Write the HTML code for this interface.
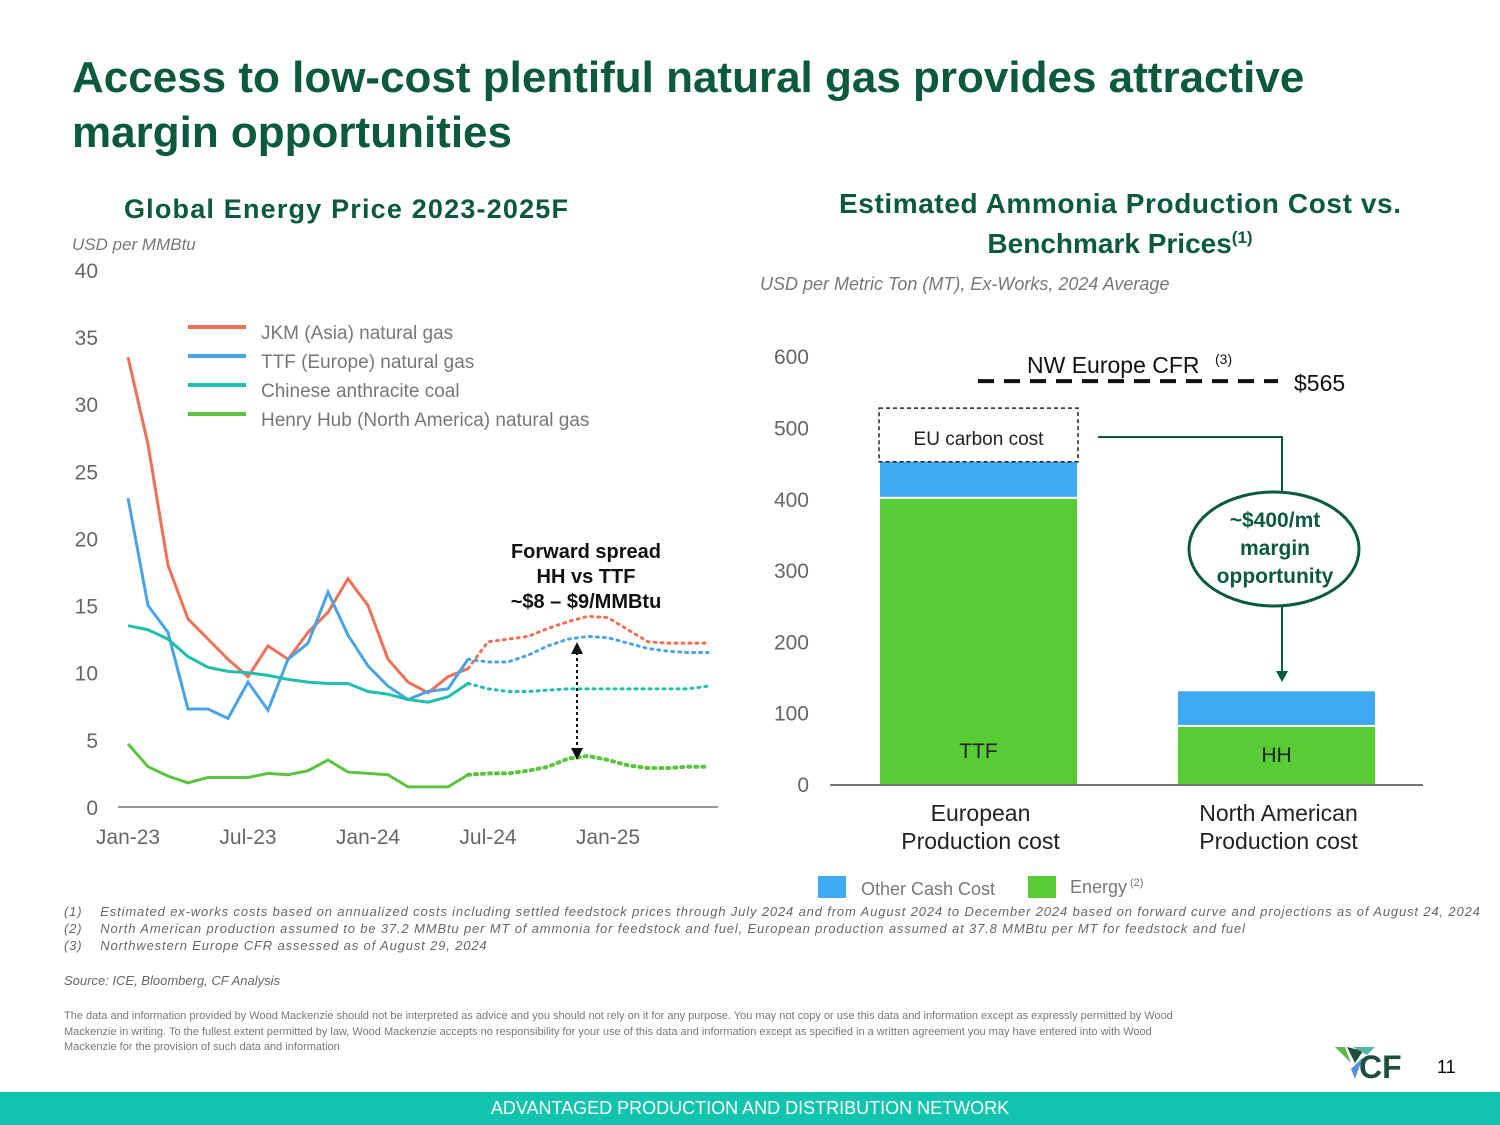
<!DOCTYPE html>
<html><head><meta charset="utf-8"><style>
body{margin:0;width:1500px;height:1125px;background:#fff;font-family:"Liberation Sans",sans-serif;position:relative;overflow:hidden}
.a{position:absolute}
</style></head><body>
<div class="a" style="left:72px;top:50px;font-size:44px;font-weight:bold;color:#0b5a3c;line-height:55px;width:1310px">Access to low-cost plentiful natural gas provides attractive margin opportunities</div>
<svg class="a" style="left:0;top:0" width="1500" height="1125" id="svg">
<text x="346" y="218" text-anchor="middle" font-size="27" font-weight="bold" fill="#0b5a3c" textLength="444">Global Energy Price 2023-2025F</text>
<text x="72" y="250" font-size="17" font-style="italic" fill="#777">USD per MMBtu</text>
<text x="1120" y="213" text-anchor="middle" font-size="28" font-weight="bold" fill="#0b5a3c" textLength="562">Estimated Ammonia Production Cost vs.</text>
<text x="1120" y="253" text-anchor="middle" font-size="28" font-weight="bold" fill="#0b5a3c">Benchmark Prices<tspan font-size="17" dy="-10">(1)</tspan></text>
<text x="760" y="290" font-size="18" font-style="italic" fill="#777">USD per Metric Ton (MT), Ex-Works, 2024 Average</text>
<g id="left"></g><g id="right"></g>
</svg>
<div class="a" style="left:64px;top:903px;font-size:13px;font-style:italic;color:#666;line-height:17px;letter-spacing:0.85px">
<div>(1)&nbsp;&nbsp;&nbsp;&nbsp;Estimated ex-works costs based on annualized costs including settled feedstock prices through July 2024 and from August 2024 to December 2024 based on forward curve and projections as of August 24, 2024</div>
<div>(2)&nbsp;&nbsp;&nbsp;&nbsp;North American production assumed to be 37.2 MMBtu per MT of ammonia for feedstock and fuel, European production assumed at 37.8 MMBtu per MT for feedstock and fuel</div>
<div>(3)&nbsp;&nbsp;&nbsp;&nbsp;Northwestern Europe CFR assessed as of August 29, 2024</div>
<div style="margin-top:18px;letter-spacing:0">Source: ICE, Bloomberg, CF Analysis</div></div>
<div class="a" style="left:64px;top:1009px;width:1140px;font-size:11px;color:#777;line-height:15.5px">The data and information provided by Wood Mackenzie should not be interpreted as advice and you should not rely on it for any purpose. You may not copy or use this data and information except as expressly permitted by Wood Mackenzie in writing. To the fullest extent permitted by law, Wood Mackenzie accepts no responsibility for your use of this data and information except as specified in a written agreement you may have entered into with Wood Mackenzie for the provision of such data and information</div>
<div class="a" style="left:1335px;top:1045px;width:80px;height:36px">
<svg width="80" height="36"><polygon points="0,2 10,2 16,18" fill="#5cb848"/><polygon points="12,2 20,18 28,6" fill="#1d4f3a"/><polygon points="18,2 40,2 32,10" fill="#4fb8a6"/><polygon points="16,24 28,12 20,34" fill="#5b8fd6"/><text x="24" y="33" font-size="32" font-weight="bold" fill="#1d4f3a">CF</text></svg></div>
<div class="a" style="left:1437px;top:1057px;font-size:18px">11</div>
<div class="a" style="left:0;top:1092px;width:1500px;height:33px;background:#12c3ad;color:#fff;font-size:18px;text-align:center;line-height:33px">ADVANTAGED PRODUCTION AND DISTRIBUTION NETWORK</div>
<script>
const months=['Jan-23','Jul-23','Jan-24','Jul-24','Jan-25'];
const yTicks=[0,5,10,15,20,25,30,35,40];
const jkm=[33.5,27,18,14,12.5,11,9.7,12,11,13,14.5,17,15,11,9.3,8.5,9.7,10.3];
const jkmF=[10.3,12.3,12.5,12.7,13.3,13.8,14.2,14.1,13.2,12.3,12.2,12.2,12.2];
const ttf=[23,15,13,7.3,7.3,6.6,9.3,7.2,11,12.2,16,12.8,10.5,9,8,8.6,8.8,11];
const ttfF=[11,10.8,10.8,11.3,12,12.5,12.7,12.6,12.2,11.8,11.6,11.5,11.5];
const coal=[13.5,13.2,12.5,11.2,10.4,10.1,10,9.8,9.5,9.3,9.2,9.2,8.6,8.4,8,7.8,8.2,9.2];
const coalF=[9.2,8.8,8.6,8.6,8.7,8.8,8.8,8.8,8.8,8.8,8.8,8.8,9.0];
const hh=[4.7,3,2.3,1.8,2.2,2.2,2.2,2.5,2.4,2.7,3.5,2.6,2.5,2.4,1.5,1.5,1.5,2.4];
const hhF=[2.4,2.5,2.5,2.7,3.0,3.6,3.8,3.5,3.1,2.9,2.9,3.0,3.0];
const seriesNames=['JKM (Asia) natural gas','TTF (Europe) natural gas','Chinese anthracite coal','Henry Hub (North America) natural gas'];
const barCats=['European|Production cost','North American|Production cost'];
const barLabels=['TTF','HH'];
const energy=[400,80];
const otherCash=[52,50];
const carbon=[113,0];
const nwEurope=565;
const rTicks=[0,100,200,300,400,500,600];
const NS='http://www.w3.org/2000/svg';
function mk(p,t,a,txt){const e=document.createElementNS(NS,t);for(const k in a)e.setAttribute(k,a[k]);if(txt!=null)e.textContent=txt;p.appendChild(e);return e;}
const L=document.getElementById('left');
const xL=i=>128+20*i, yL=v=>807-v*13.43;
yTicks.forEach(t=>{const e=mk(L,'text',{x:98,y:yL(t)+8,'text-anchor':'end','font-size':21,fill:'#666'},t);

});
mk(L,'line',{x1:118,x2:718,y1:807,y2:807,stroke:'#999','stroke-width':2});
months.forEach((m,i)=>{const e=mk(L,'text',{x:xL(i*6),y:844,'text-anchor':'middle','font-size':21,fill:'#666'},m);

});
const cols=['#f07056','#4aa3e6','#1fbfae','#5ac43e'];
[[jkm,jkmF],[ttf,ttfF],[coal,coalF],[hh,hhF]].forEach((s,k)=>{
 const p=mk(L,'polyline',{points:s[0].map((v,i)=>xL(i)+','+yL(v)).join(' '),fill:'none',stroke:cols[k],'stroke-width':3});
 
 
 const f=mk(L,'polyline',{points:s[1].map((v,i)=>xL(i+17)+','+yL(v)).join(' '),fill:'none',stroke:cols[k],'stroke-width':k==3?4:3,'stroke-dasharray':'2 5','stroke-linecap':'round'});
 
 
 const ly=327+k*29;
 const ll=mk(L,'line',{x1:188,x2:246,y1:ly,y2:ly,stroke:cols[k],'stroke-width':4});
 
 const lt=mk(L,'text',{x:261,y:ly+12,'font-size':19,fill:'#777'},seriesNames[k]);
 
 
});
['Forward spread','HH vs TTF','~$8 – $9/MMBtu'].forEach((t,i)=>{const e=mk(L,'text',{x:586,y:558+i*25,'text-anchor':'middle','font-size':20,'font-weight':'bold',fill:'#111'},t);
});
mk(L,'line',{x1:577,x2:577,y1:652,y2:750,stroke:'#111','stroke-width':2,'stroke-dasharray':'3 3'});
mk(L,'polygon',{points:'571,654 583,654 577,642',fill:'#111'});
mk(L,'polygon',{points:'571,748 583,748 577,760',fill:'#111'});

const R=document.getElementById('right');
const yR=v=>784-v*0.713;
rTicks.forEach(t=>{const e=mk(R,'text',{x:809,y:yR(t)+8,'text-anchor':'end','font-size':21,fill:'#666'},t);

});
mk(R,'line',{x1:830,x2:1423,y1:785,y2:785,stroke:'#777','stroke-width':2});
const bx=[880,1178],bw=197;
barCats.forEach((c,i)=>{
 const g=mk(R,'rect',{x:bx[i],y:yR(energy[i]),width:bw,height:yR(0)-yR(energy[i]),fill:'#58cc35'});
 
 
 const o=mk(R,'rect',{x:bx[i],y:yR(energy[i]+otherCash[i]),width:bw,height:yR(energy[i])-yR(energy[i]+otherCash[i])-2,fill:'#3fa9f5'});
 
 
 mk(R,'text',{x:bx[i]+bw/2,y:i?762:758,'text-anchor':'middle','font-size':21,fill:'#222'},barLabels[i]);
 c.split('|').forEach((t,j)=>{const e=mk(R,'text',{x:bx[i]+bw/2+2,y:821+j*28,'text-anchor':'middle','font-size':23,fill:'#222'},t);
 
 });
 if(carbon[i]>0){const tot=energy[i]+otherCash[i];
  const cb=mk(R,'rect',{x:bx[i]-1,y:yR(tot+carbon[i])+27,width:bw+2,height:yR(tot)-yR(tot+carbon[i])-27,fill:'none',stroke:'#222','stroke-dasharray':'4 3','stroke-width':1.5});
  
  mk(R,'text',{x:bx[i]+bw/2,y:445,'text-anchor':'middle','font-size':19,fill:'#222'},'EU carbon cost');}
});
mk(R,'line',{x1:978,x2:1278,y1:yR(nwEurope),y2:yR(nwEurope),stroke:'#111','stroke-width':4,'stroke-dasharray':'16 10'});
mk(R,'text',{x:1027,y:373,'font-size':23,fill:'#111'},'NW Europe CFR');
mk(R,'text',{x:1215,y:364,'font-size':14,fill:'#111'},'(3)');
mk(R,'text',{x:1294,y:391,'font-size':23,fill:'#111'},'$'+nwEurope);
mk(R,'polyline',{points:'1098,437 1282,437 1282,502',fill:'none',stroke:'#0b5a3c','stroke-width':2});
mk(R,'ellipse',{cx:1274,cy:549,rx:85,ry:57,fill:'#fff',stroke:'#0b5a3c','stroke-width':3});
['~$400/mt','margin','opportunity'].forEach((t,i)=>mk(R,'text',{x:1275,y:527+i*28,'text-anchor':'middle','font-size':21,'font-weight':'bold',fill:'#0b5a3c'},t));
mk(R,'line',{x1:1282,x2:1282,y1:606,y2:672,stroke:'#0b5a3c','stroke-width':2});
mk(R,'polygon',{points:'1276,671 1288,671 1282,682',fill:'#0b5a3c'});
mk(R,'rect',{x:818,y:876,width:28,height:22,fill:'#3fa9f5'});
mk(R,'text',{x:861,y:895,'font-size':18,fill:'#777'},'Other Cash Cost');
mk(R,'rect',{x:1028,y:876,width:28,height:22,fill:'#58cc35'});
mk(R,'text',{x:1070,y:893,'font-size':18,fill:'#777'},'Energy');
mk(R,'text',{x:1130,y:886,'font-size':11,fill:'#777'},'(2)');
</script>
</body></html>
